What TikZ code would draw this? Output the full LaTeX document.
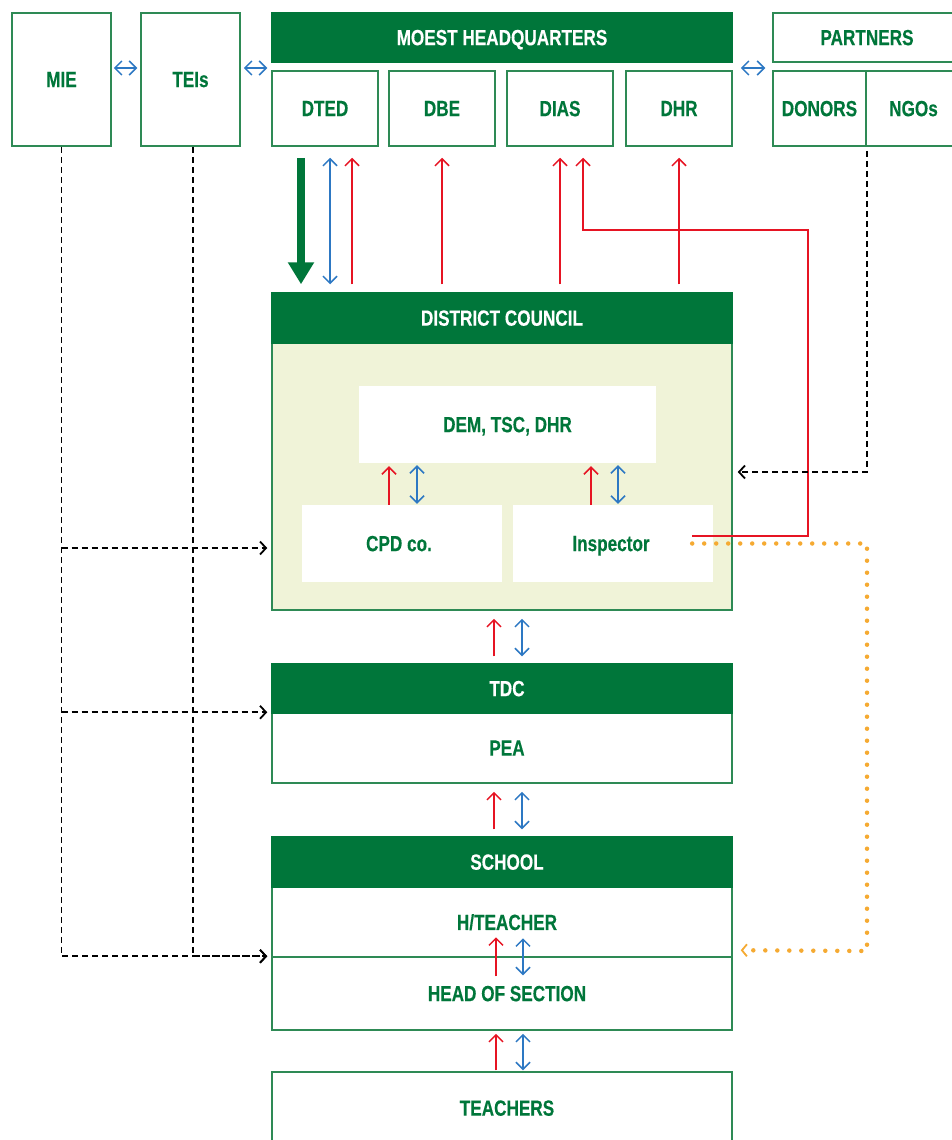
\documentclass[tikz,border=0pt]{standalone}
\usepackage{fontspec}
\setmainfont{Liberation Sans}[FakeStretch=0.78, FakeBold=0.3]
\usepackage{xcolor}
\usetikzlibrary{arrows.meta, positioning, calc}

\definecolor{moegreen}{RGB}{0,118,58}
\definecolor{boxgreen}{RGB}{46,138,85}
\definecolor{linkred}{RGB}{230,20,35}
\definecolor{linkblue}{RGB}{45,120,195}
\definecolor{dotorange}{RGB}{245,170,50}
\definecolor{dcfill}{RGB}{240,243,216}

\begin{document}
\begin{tikzpicture}[x=1pt, y=-1pt,
  font=\fontsize{22}{24}\selectfont\bfseries,
  box/.style={draw=boxgreen, line width=1.5pt, text=moegreen, inner sep=0pt, text depth=0pt, align=center},
  head/.style={fill=moegreen, draw=moegreen, line width=1.5pt, text=white, inner sep=0pt, text depth=0pt},
  inbox/.style={fill=white, text=moegreen, inner sep=0pt, text depth=0pt},
  offtext/.style={execute at begin node={\hspace*{10pt}}},
  redarr/.style={linkred, line width=1.5pt, -{Straight Barb[length=7pt,width=14pt]}},
  bluearr/.style={linkblue, line width=1.5pt, {Straight Barb[length=7pt,width=14pt]}-{Straight Barb[length=7pt,width=14pt]}},
  greenarr/.style={moegreen, line width=8pt, -{Triangle[length=22pt,width=25pt]}},
  dasharr/.style={black, line width=1.8pt, dash pattern=on 6pt off 4pt, -{Straight Barb[length=6pt,width=13pt]}},
  dotarr/.style={dotorange, line width=4.5pt, line cap=round, dash pattern=on 0pt off 12pt,
    -{Straight Barb[length=5pt,width=12pt,line width=1.8pt]}},
]
  \useasboundingbox (0,0) rectangle (952,1140);
  \clip (0,0) rectangle (952,1140);

  % top row
  \node[box, minimum width=99pt, minimum height=133pt] (mie)  at (61.5,79.5)  {MIE};
  \node[box, minimum width=99pt, minimum height=133pt] (teis) at (190.5,79.5) {TEIs};

  \node[head, minimum width=460pt, minimum height=49pt] (moest) at (502,37.5) {MOEST HEADQUARTERS};
  \node[box, minimum width=106pt, minimum height=75pt] (dted) at (325,108.5) {DTED};
  \node[box, minimum width=106pt, minimum height=75pt] (dbe)  at (442,108.5) {DBE};
  \node[box, minimum width=106pt, minimum height=75pt] (dias) at (560,108.5) {DIAS};
  \node[box, minimum width=106pt, minimum height=75pt] (dhr)  at (679,108.5) {DHR};

  \node[box, minimum width=188pt, minimum height=49pt] (partners) at (867,37.5)  {PARTNERS};
  \node[box, minimum width=93pt,  minimum height=75pt] (donors)   at (819.5,108.5) {DONORS};
  \node[box, minimum width=95pt,  minimum height=75pt] (ngos)     at (913.5,108.5) {NGOs};

  \coordinate (rowy) at (0,68);
  \draw[bluearr, shorten <=2pt, shorten >=3pt] (mie.east |- rowy) -- (teis.west |- rowy);
  \draw[bluearr, shorten <=3pt, shorten >=4pt] (teis.east |- rowy) -- (dted.west |- rowy);
  \draw[bluearr, shorten <=8pt, shorten >=7pt] (dhr.east |- rowy) -- (partners.west |- rowy);

  % district council
  \node[box, fill=dcfill, minimum width=460pt, minimum height=267pt] (dcbody) at (502,476.5) {};
  \node[head, minimum width=460pt, minimum height=50pt] (dc) at (502,318) {DISTRICT COUNCIL};
  \node[inbox, minimum width=297pt, minimum height=77pt] (dem)  at (507.5,424.5) {DEM, TSC, DHR};
  \node[inbox, minimum width=200pt, minimum height=77pt] (cpd)  at (402,543.5)   {CPD co.\hspace*{6pt}};
  \node[inbox, minimum width=200pt, minimum height=77pt] (insp) at (613,543.5)   {Inspector\hspace*{4pt}};

  % TDC and school
  \node[box, offtext, minimum width=460pt, minimum height=70pt] (pea) at (502,748)   {PEA};
  \node[head, offtext, minimum width=460pt, minimum height=49pt] (tdc) at (502,688.5) {TDC};
  \node[box, offtext, minimum width=460pt, minimum height=70pt] (hteach) at (502,922)    {H/TEACHER};
  \node[box, offtext, minimum width=460pt, minimum height=73pt] (hos)    at (502,993.5)  {HEAD OF SECTION};
  \node[head, offtext, minimum width=460pt, minimum height=50pt] (school) at (502,862)    {SCHOOL};
  \node[box, offtext, minimum width=460pt, minimum height=72pt] (teachers) at (502,1108) {TEACHERS};

  % headquarters <-> district council
  \path ([xshift=-24pt]dted.south) coordinate (dtedA)
        ([xshift=5pt]dted.south)   coordinate (dtedB)
        ([xshift=27pt]dted.south)  coordinate (dtedC)
        ([xshift=23pt]dias.south)  coordinate (diasB);
  \draw[greenarr, shorten <=11pt, shorten >=8pt] (dtedA) -- (dtedA |- dc.north);
  \draw[bluearr, shorten <=11pt, shorten >=8pt] (dtedB) -- (dtedB |- dc.north);
  \draw[redarr, shorten <=8pt, shorten >=11pt] (dtedC |- dc.north) -- (dtedC);
  \draw[redarr, shorten <=8pt, shorten >=11pt] (dc.north -| dbe.south) -- (dbe.south);
  \draw[redarr, shorten <=8pt, shorten >=11pt] (dc.north -| dias.south) -- (dias.south);
  \draw[redarr, shorten <=8pt, shorten >=11pt] (dc.north -| dhr.south) -- (dhr.south);

  % inside the district council
  \path ([xshift=-13pt]cpd.north)  coordinate (cpdA)
        ([xshift=15pt]cpd.north)   coordinate (cpdB)
        ([xshift=-22pt]insp.north) coordinate (inspA)
        ([xshift=5pt]insp.north)   coordinate (inspB);
  \draw[redarr, shorten >=3pt] (cpdA) -- (cpdA |- dem.south);
  \draw[bluearr, shorten <=1pt, shorten >=2pt] (cpdB) -- (cpdB |- dem.south);
  \draw[redarr, shorten >=3pt] (inspA) -- (inspA |- dem.south);
  \draw[bluearr, shorten <=1pt, shorten >=2pt] (inspB) -- (inspB |- dem.south);

  % inspector reports to DIAS
  \coordinate (redbend) at (808,230);
  \draw[redarr, shorten >=11pt] ([xshift=-21pt,yshift=7.5pt]insp.east) -| (redbend) -| (diasB);

  % partners -> district council
  \draw[dasharr, shorten <=4pt, shorten >=5pt] (donors.south east) |- ([yshift=4.5pt]dcbody.east);

  % inspector -> school
  \coordinate (dotbend) at (867,951);
  \draw[dotarr] ([xshift=-21pt]insp.east) -| (dotbend) -- ([xshift=8pt,yshift=6pt]hos.north east);

  % MIE and TEIs support lines
  \path ([yshift=-4.5pt]cpd.west) coordinate (cpdrow)
        ([xshift=2.5pt]teis.south) coordinate (teisfoot);
  \draw[dasharr, shorten >=4pt] (mie.south) |- (hos.north west);
  \draw[dasharr, shorten >=4pt] (teisfoot) |- (hos.north west);
  \draw[dasharr, shorten >=4pt] (mie.south |- cpdrow) -- (dcbody.west |- cpdrow);
  \draw[dasharr, shorten >=4pt] (mie.south |- pea.north) -- (pea.north west);

  % down the chain
  \draw[redarr, shorten <=7pt, shorten >=8pt] ([xshift=-8pt]tdc.north) -- ([xshift=-8pt]dcbody.south);
  \draw[bluearr, shorten <=7pt, shorten >=8pt] ([xshift=20pt]tdc.north) -- ([xshift=20pt]dcbody.south);
  \draw[redarr, shorten <=7pt, shorten >=8pt] ([xshift=-8pt]school.north) -- ([xshift=-8pt]pea.south);
  \draw[bluearr, shorten <=7pt, shorten >=8pt] ([xshift=20pt]school.north) -- ([xshift=20pt]pea.south);
  \draw[redarr] ([xshift=-6pt,yshift=-20pt]hos.north) -- ([xshift=-6pt,yshift=19pt]hos.north);
  \draw[bluearr] ([xshift=21pt,yshift=-19pt]hos.north) -- ([xshift=21pt,yshift=18pt]hos.north);
  \draw[redarr, shorten <=1pt, shorten >=3pt] ([xshift=-6pt]teachers.north) -- ([xshift=-6pt]hos.south);
  \draw[bluearr, shorten <=1pt, shorten >=3pt] ([xshift=21pt]teachers.north) -- ([xshift=21pt]hos.south);
\end{tikzpicture}
\end{document}
